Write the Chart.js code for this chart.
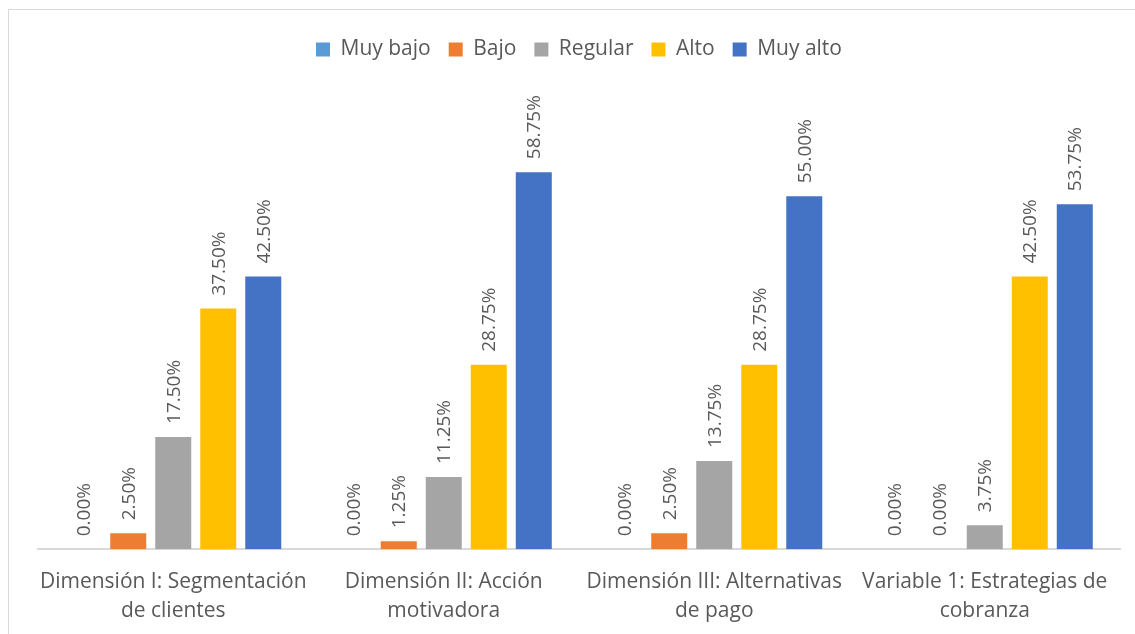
<!DOCTYPE html>
<html>
<head>
<meta charset="utf-8">
<script src="https://cdn.jsdelivr.net/npm/chart.js@4.4.1/dist/chart.umd.min.js"></script>
<style>
  html, body { margin: 0; padding: 0; background: #fff; overflow: hidden; }
  #frame { position: absolute; left: 8px; top: 9px; width: 1200px; height: 700px; border: 1px solid #d9d9d9; }
  #wrap { position: absolute; left: 0; top: 0; width: 1135px; height: 634px; }
</style>
</head>
<body>
<div id="frame"></div>
<div id="wrap"><canvas id="chart" width="1135" height="634"></canvas></div>
<script>
const categories = [
  ['Dimensión I: Segmentación', 'de clientes'],
  ['Dimensión II: Acción', 'motivadora'],
  ['Dimensión III: Alternativas', 'de pago'],
  ['Variable 1: Estrategias de', 'cobranza']
];
const seriesNames = ['Muy bajo', 'Bajo', 'Regular', 'Alto', 'Muy alto'];
const muyBajo = [0, 0, 0, 0];
const bajo = [2.5, 1.25, 2.5, 0];
const regular = [17.5, 11.25, 13.75, 3.75];
const alto = [37.5, 28.75, 28.75, 42.5];
const muyAlto = [42.5, 58.75, 55, 53.75];
const colors = ['#5B9BD5', '#ED7D31', '#A5A5A5', '#FFC000', '#4472C4'];

const seriesValues = [muyBajo, bajo, regular, alto, muyAlto];
const textColor = '#595959';
const fontFamily = '"Open Sans", "Noto Sans", sans-serif';

// rotated value labels above each bar
const barLabels = {
  id: 'barLabels',
  afterDatasetsDraw(chart) {
    const ctx = chart.ctx;
    ctx.save();
    ctx.fillStyle = textColor;
    ctx.font = '19px ' + fontFamily;
    ctx.textAlign = 'left';
    ctx.textBaseline = 'middle';
    chart.data.datasets.forEach((ds, i) => {
      const meta = chart.getDatasetMeta(i);
      meta.data.forEach((bar, j) => {
        ctx.save();
        ctx.translate(bar.x, bar.y - 13);
        ctx.rotate(-Math.PI / 2);
        ctx.fillText(ds.data[j].toFixed(2) + '%', 0, 1);
        ctx.restore();
      });
    });
    ctx.restore();
  }
};

// extra room between legend and bars
const legendGap = {
  id: 'legendGap',
  beforeInit(chart) {
    const fit = chart.legend.fit;
    chart.legend.fit = function () {
      fit.bind(chart.legend)();
      this.height += 30;
    };
  }
};

new Chart(document.getElementById('chart'), {
  type: 'bar',
  data: {
    labels: categories,
    datasets: seriesNames.map((name, i) => ({
      label: name,
      data: seriesValues[i],
      backgroundColor: colors[i],
      categoryPercentage: 0.832,
      barPercentage: 0.8
    }))
  },
  options: {
    responsive: false,
    animation: false,
    layout: { padding: { left: 38, right: 15, top: 21, bottom: -2 } },
    plugins: {
      legend: {
        position: 'top',
        labels: {
          color: textColor,
          font: { family: fontFamily, size: 21 },
          boxWidth: 14,
          boxHeight: 14,
          padding: 18
        }
      },
      tooltip: { enabled: false }
    },
    scales: {
      x: {
        grid: { display: false },
        border: { color: '#d9d9d9', width: 2 },
        ticks: {
          color: textColor,
          font: { family: fontFamily, size: 21, lineHeight: 1.35 },
          padding: 11,
          maxRotation: 0
        }
      },
      y: {
        display: false,
        min: 0,
        max: 70
      }
    }
  },
  plugins: [barLabels, legendGap]
});
</script>
</body>
</html>
